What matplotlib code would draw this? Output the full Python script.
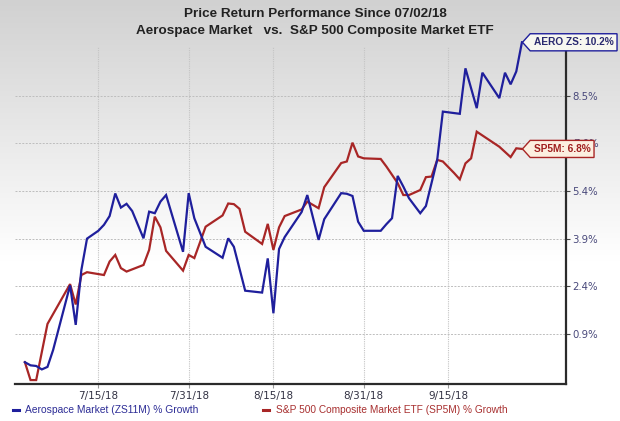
import matplotlib
matplotlib.use("Agg")
import matplotlib.pyplot as plt
import numpy as np
import pandas as pd
from matplotlib.path import Path
from matplotlib.lines import Line2D

# ---------------- data ----------------
start_date = "2018-07-02"
title_lines = ["Price Return Performance Since 07/02/18",
               "Aerospace Market   vs.  S&P 500 Composite Market ETF"]

aero_days = [0, 1, 2, 3, 4, 5, 8, 9, 10, 11, 13, 14, 15, 16, 17, 18, 19, 21, 22, 23,
             24, 25, 28, 29, 30, 32, 35, 36, 37, 39, 42, 43, 44, 45, 46, 49, 50, 52,
             53, 56, 57, 58, 59, 60, 63, 64, 65, 66, 67, 68, 70, 71, 73, 74, 77, 78,
             80, 81, 84, 85, 86, 87, 88]
aero_vals = [0.0, -0.10, -0.12, -0.23, -0.15, 0.39, 2.45, 1.19, 2.94, 3.94, 4.19, 4.38,
             4.66, 5.38, 4.93, 5.05, 4.82, 3.95, 4.80, 4.75, 5.12, 5.33, 3.52, 5.39,
             4.59, 3.68, 3.33, 3.95, 3.68, 2.28, 2.22, 3.31, 1.56, 3.61, 3.99, 4.79,
             5.33, 3.90, 4.56, 5.39, 5.37, 5.30, 4.48, 4.19, 4.19, 4.40, 4.59, 5.94,
             5.60, 5.23, 4.75, 4.98, 6.45, 7.99, 7.92, 9.37, 8.10, 9.23, 8.42, 9.23,
             8.86, 9.27, 10.2]

sp5m_days = [0, 1, 2, 4, 8, 9, 10, 11, 14, 15, 16, 17, 18, 21, 22, 23, 24, 25, 28, 29,
             30, 32, 35, 36, 37, 38, 39, 42, 43, 44, 45, 46, 49, 50, 52, 53, 56, 57,
             58, 59, 60, 63, 64, 66, 67, 68, 70, 71, 72, 73, 74, 76, 77, 78, 79, 80,
             84, 86, 87, 88]
sp5m_vals = [0.0, -0.57, -0.57, 1.22, 2.49, 1.84, 2.78, 2.87, 2.78, 3.21, 3.42, 3.00,
             2.89, 3.10, 3.58, 4.64, 4.30, 3.55, 2.92, 3.42, 3.32, 4.32, 4.68, 5.06,
             5.04, 4.89, 4.16, 3.77, 4.41, 3.58, 4.30, 4.66, 4.87, 5.12, 4.91, 5.58,
             6.35, 6.40, 7.00, 6.56, 6.50, 6.48, 6.24, 5.71, 5.33, 5.33, 5.49, 5.90,
             5.92, 6.45, 6.40, 6.03, 5.83, 6.34, 6.50, 7.35, 6.87, 6.54, 6.82, 6.80]

y_tick_vals = [0.9, 2.42, 3.94, 5.46, 6.98, 8.5]
y_tick_labels = ["0.9%", "2.4%", "3.9%", "5.4%", "7.0%", "8.5%"]
x_tick_dates = ["2018-07-15", "2018-07-31", "2018-08-15", "2018-08-31", "2018-09-15"]
x_tick_labels = ["7/15/18", "7/31/18", "8/15/18", "8/31/18", "9/15/18"]

aero_label = "AERO ZS: 10.2%"
sp5m_label = "SP5M: 6.8%"
aero_legend = "Aerospace Market (ZS11M) % Growth"
sp5m_legend = "S&P 500 Composite Market ETF (SP5M) % Growth"

# ---------------- styling ----------------
BLUE = "#1f1f9c"
RED = "#a82626"
W, H = 620, 421
DPI = 100

start = pd.Timestamp(start_date)
aero_x = start + pd.to_timedelta(aero_days, unit="D")
sp5m_x = start + pd.to_timedelta(sp5m_days, unit="D")

fig = plt.figure(figsize=(W / DPI, H / DPI), dpi=DPI)

# background gradient
bg = fig.add_axes([0, 0, 1, 1], zorder=-10)
yy = np.linspace(0, 1, 421)[:, None]
g = np.clip(0.82 + 0.18 * yy / 0.62, 0, 1)
img = np.repeat(g, 10, axis=1)
bg.imshow(np.dstack([img, img, img]), aspect="auto", extent=[0, 1, 0, 1],
          origin="upper")
bg.set_axis_off()

ax = fig.add_axes([15 / W, 1 - 384 / H, (565.7 - 15) / W, (384 - 47) / H])
ax.set_facecolor("none")

ax.plot(aero_x, aero_vals, color=BLUE, lw=1.6, zorder=4, clip_on=False,
        solid_joinstyle="miter")
ax.plot(sp5m_x, sp5m_vals, color=RED, lw=1.6, zorder=3, clip_on=False,
        solid_joinstyle="miter")

ax.set_xlim(start - pd.Timedelta(days=1.75), start + pd.Timedelta(days=95.75))
ax.set_ylim(-0.695, 10.05)

ax.yaxis.tick_right()
ax.set_yticks(y_tick_vals)
ax.set_yticklabels(y_tick_labels)
ax.set_xticks(pd.to_datetime(x_tick_dates))
ax.set_xticklabels(x_tick_labels)

ax.tick_params(axis="y", direction="out", length=3, width=0.8, color="#444444",
               labelsize=7.3, labelcolor="#48487a", pad=2)
ax.tick_params(axis="x", direction="out", length=3, width=0.8, color="#999999",
               labelsize=7.5, labelcolor="#333344", pad=2)
for lab in ax.get_yticklabels() + ax.get_xticklabels():
    lab.set_fontfamily("DejaVu Sans")

ax.grid(axis="y", color="#bdbdbd", linestyle=(0, (2, 1.5)), linewidth=0.7)
ax.grid(axis="x", color="#c4c4c4", linestyle=(0, (1, 1)), linewidth=0.8)
ax.set_axisbelow(True)

for s in ["top", "left"]:
    ax.spines[s].set_visible(False)
for s in ["bottom", "right"]:
    ax.spines[s].set_color("#2b2b2b")
    ax.spines[s].set_linewidth(1.6)


def tag_box(x0, y0, width, height, mutation_size):
    pad = 0.35 * mutation_size
    x0 -= pad
    y0 -= pad
    x1 = x0 + width + 2 * pad
    y1 = y0 + height + 2 * pad
    h = y1 - y0
    tip = 0.45 * h
    ym = (y0 + y1) / 2
    verts = [(x0 - tip, ym), (x0, y1), (x1, y1), (x1, y0), (x0, y0), (x0 - tip, ym)]
    codes = [Path.MOVETO, Path.LINETO, Path.LINETO, Path.LINETO, Path.LINETO,
             Path.CLOSEPOLY]
    return Path(verts, codes)


ax.annotate(aero_label, xy=(aero_x[-1], aero_vals[-1]), xytext=(8.5, 0),
            textcoords="offset points", ha="left", va="center",
            fontsize=7.3, fontweight="bold", family="Liberation Sans", color="#2a2a70",
            bbox=dict(boxstyle=tag_box, fc="#f7f7f0", ec=BLUE, lw=1.0),
            annotation_clip=False, zorder=20)
ax.annotate(sp5m_label, xy=(sp5m_x[-1], sp5m_vals[-1]), xytext=(8.5, 0),
            textcoords="offset points", ha="left", va="center",
            fontsize=7.3, fontweight="bold", family="Liberation Sans", color="#a02020",
            bbox=dict(boxstyle=tag_box, fc="#fcefe0", ec=RED, lw=1.0),
            annotation_clip=False, zorder=20)

# title
fig.text(315 / W, 1 - 14 / H, title_lines[0], ha="center", va="center",
         fontsize=9.7, fontweight="bold", family="Liberation Sans", color="#222222")
fig.text(315 / W, 1 - 31 / H, title_lines[1], ha="center", va="center",
         fontsize=9.7, fontweight="bold", family="Liberation Sans", color="#222222")

# legend
ly = 1 - 410 / H
fig.add_artist(Line2D([13 / W, 19 / W], [ly, ly], color=BLUE, lw=2.2))
fig.text(25 / W, ly, aero_legend, ha="left", va="center", fontsize=7.4,
         family="Liberation Sans", color="#2d2d96")
fig.add_artist(Line2D([263 / W, 269 / W], [ly, ly], color=RED, lw=2.2))
fig.text(276 / W, ly, sp5m_legend, ha="left", va="center", fontsize=7.3,
         family="Liberation Sans", color="#a83030")

fig.savefig("out.png", dpi=DPI)
